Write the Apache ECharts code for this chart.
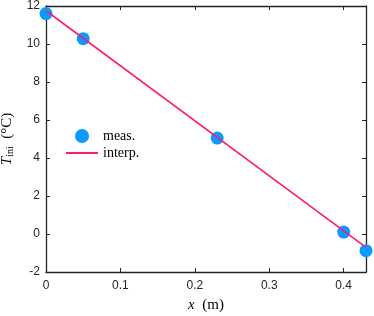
<!DOCTYPE html>
<html><head><meta charset="utf-8">
<script src="https://cdn.jsdelivr.net/npm/echarts@6/dist/echarts.min.js"></script>
<style>html,body{margin:0;padding:0;background:#fff}#c{width:374px;height:316px}</style>
</head><body><div id="c"></div>
<script>
const measX = [0, 0.05, 0.23, 0.40, 0.43];
const measT = [11.6, 10.28, 5.05, 0.1, -0.88];
const interpX = [0, 0.43];
const interpT = [11.75, -0.7];
const xTicks = [0, 0.1, 0.2, 0.3, 0.4];
const yTicks = [-2, 0, 2, 4, 6, 8, 10, 12];

const axisColor = '#222';
const chart = echarts.init(document.getElementById('c'));
const xBase = {
  type: 'value', min: 0, max: 0.43,
  axisLine: {show: true, onZero: false, lineStyle: {color: axisColor, width: 1.3}},
  axisTick: {show: true, inside: true, length: 4, customValues: xTicks, lineStyle: {color: axisColor}},
  splitLine: {show: false}
};
const yBase = {
  type: 'value', min: -2, max: 12, interval: 2,
  axisLine: {show: true, onZero: false, lineStyle: {color: axisColor, width: 1.3}},
  axisTick: {show: true, inside: true, length: 4, lineStyle: {color: axisColor}},
  splitLine: {show: false}
};
chart.setOption({
  animation: false,
  grid: {left: 46, right: 8, top: 6, bottom: 44, containLabel: false, outerBoundsMode: 'none'},
  legend: {
    orient: 'vertical', left: 60, top: 124,
    itemWidth: 32, itemHeight: 14, itemGap: 3,
    textStyle: {fontFamily: 'Liberation Serif', fontSize: 14, color: '#000'},
    data: [{name: 'meas.', icon: 'circle'}, {name: 'interp.', itemStyle: {opacity: 0}}]
  },
  xAxis: [
    Object.assign({}, xBase, {
      position: 'bottom',
      axisLabel: {customValues: xTicks, color: '#262626', fontFamily: 'Liberation Sans', fontSize: 12, margin: 8},
      name: '{i|x}  (m)', nameLocation: 'middle', nameGap: 26,
      nameTextStyle: {fontFamily: 'Liberation Serif', fontSize: 15, color: '#000',
        rich: {i: {fontFamily: 'Liberation Serif', fontStyle: 'italic', fontSize: 15}}}
    }),
    Object.assign({}, xBase, {position: 'top', axisLabel: {show: false}})
  ],
  yAxis: [
    Object.assign({}, yBase, {
      position: 'left',
      axisLabel: {color: '#262626', fontFamily: 'Liberation Sans', fontSize: 12, margin: 6},
      name: '{i|T}{s|ini}  (°C)', nameLocation: 'middle', nameGap: 25, nameRotate: 90,
      nameTextStyle: {fontFamily: 'Liberation Serif', fontSize: 15, color: '#000',
        rich: {i: {fontFamily: 'Liberation Serif', fontStyle: 'italic', fontSize: 15},
               s: {fontFamily: 'Liberation Serif', fontSize: 10, padding: [8, 0, 0, 0]}}}
    }),
    Object.assign({}, yBase, {position: 'right', axisLabel: {show: false}})
  ],
  series: [
    {name: 'interp.', type: 'line', data: interpX.map((x, i) => [x, interpT[i]]),
     symbol: 'none', lineStyle: {color: '#ff1a75', width: 1.6}, itemStyle: {color: '#ff1a75'}, z: 3},
    {name: 'meas.', type: 'scatter', data: measX.map((x, i) => [x, measT[i]]),
     symbolSize: 13, itemStyle: {color: '#0a9bff', opacity: 1}, z: 2}
  ]
});
</script></body></html>
